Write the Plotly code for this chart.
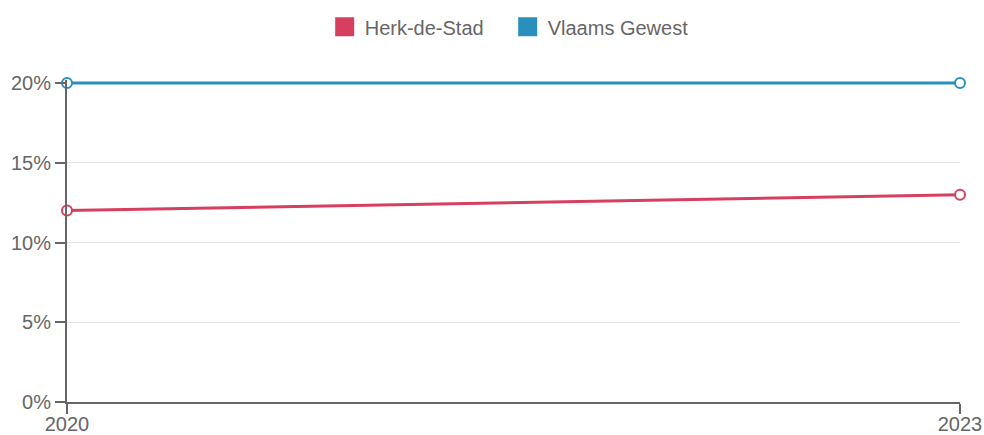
import plotly.graph_objects as go

years = [2020, 2023]
herk_de_stad = [12, 13]
vlaams_gewest = [20, 20]
y_ticks = [0, 5, 10, 15, 20]
y_tick_labels = ["0%", "5%", "10%", "15%", "20%"]

series = [
    ("Herk-de-Stad", herk_de_stad, "#d63f5f"),
    ("Vlaams Gewest", vlaams_gewest, "#2b8fbe"),
]

fig = go.Figure()

for name, values, color in series:
    fig.add_trace(go.Scatter(
        x=years, y=values, mode="lines+markers", name=name,
        line=dict(color=color, width=3),
        marker=dict(symbol="circle", size=10, color="white",
                    line=dict(color=color, width=2)),
        cliponaxis=False, showlegend=False,
    ))

# legend entries shown as filled squares
for name, values, color in series:
    fig.add_trace(go.Scatter(
        x=[None], y=[None], mode="markers", name=name,
        marker=dict(symbol="square", size=16, color=color,
                    line=dict(color=color, width=3)),
        showlegend=True,
    ))

font_color = "#666666"

# a little headroom above 20% so the top line is not clipped
px_per_unit = (402 - 83) / 20
y_top = 20 + 3 / px_per_unit

fig.update_layout(
    width=984, height=435,
    margin=dict(l=67, r=24, t=80, b=33, autoexpand=False),
    paper_bgcolor="white", plot_bgcolor="white",
    font=dict(family="Liberation Sans, Arial, sans-serif", size=20, color=font_color),
    legend=dict(orientation="h", x=0.4935, xanchor="center", y=1.165, yanchor="middle",
                font=dict(size=20, color=font_color), itemclick=False,
                entrywidth=138),
    xaxis=dict(
        range=[2020, 2023], tickvals=years, ticktext=[str(y) for y in years],
        automargin=False, ticklabelstandoff=-7,
        showgrid=False, zeroline=False, showline=True, linecolor="#666666", linewidth=2,
        ticks="outside", ticklen=10, tickwidth=2, tickcolor="#666666",
    ),
    yaxis=dict(
        range=[0, y_top], tickvals=y_ticks, ticktext=y_tick_labels,
        automargin=False,
        showgrid=True, gridcolor="#e6e6e6", gridwidth=1, zeroline=False,
        showline=True, linecolor="#666666", linewidth=2,
        ticks="outside", ticklen=10, tickwidth=2, tickcolor="#666666",
    ),
)

fig.write_html("out.html")
